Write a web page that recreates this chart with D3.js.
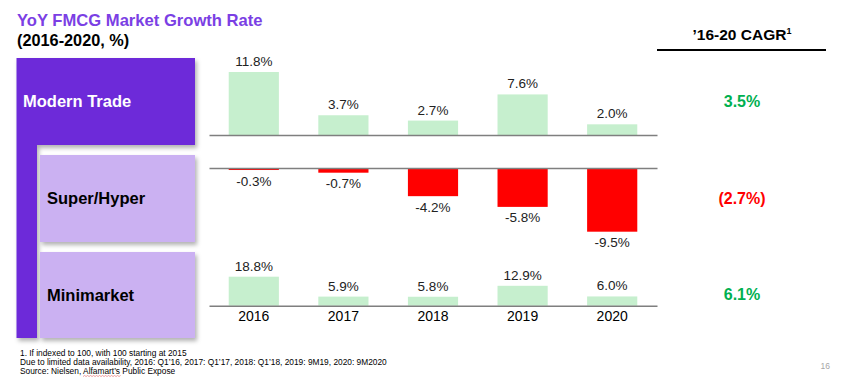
<!DOCTYPE html>
<html><head><meta charset="utf-8">
<script src="https://cdn.jsdelivr.net/npm/d3@7"></script>
<style>
html,body{margin:0;padding:0;background:#fff;}
svg{display:block;font-family:"Liberation Sans",Arial,sans-serif;}
</style></head>
<body><svg id="c" width="845" height="388"></svg>
<script>
const years = ["2016","2017","2018","2019","2020"];
const channels = ["Modern Trade","Super/Hyper","Minimarket"];
const modernTrade = [11.8,3.7,2.7,7.6,2.0];
const superHyper = [-0.3,-0.7,-4.2,-5.8,-9.5];
const minimarket = [18.8,5.9,5.8,12.9,6.0];
const cagr = [3.5,-2.7,6.1];
const titleText = "YoY FMCG Market Growth Rate";
const subtitleText = "(2016-2020, %)";
const cagrHeader = "\u201916-20 CAGR";
const footnotes = [
  "1. If indexed to 100, with 100 starting at 2015",
  "Due to limited data availability, 2016: Q1\u201916, 2017: Q1\u201917, 2018: Q1\u201918, 2019: 9M19, 2020: 9M2020",
  "Source: Nielsen, Alfamart\u2019s Public Expose"
];

const svg = d3.select("#c");
const defs = svg.append("defs");
const f = defs.append("filter").attr("id","sh").attr("x","-10%").attr("y","-10%").attr("width","130%").attr("height","130%");
f.append("feDropShadow").attr("dx",2).attr("dy",3).attr("stdDeviation",2).attr("flood-color","#000").attr("flood-opacity",0.3);

const DARK = "#6d2cd9", LIGHT = "#cbb1f2", GREEN = "#c6efce", RED = "#ff0000", CAGRG = "#00b050";
const fmt = d => (d < 0 ? "-" : "") + Math.abs(d).toFixed(1);

// Title
svg.append("text").attr("x",17).attr("y",26).attr("fill","#7b3fe4").attr("font-weight","bold").attr("font-size",16.6).text(titleText);
svg.append("text").attr("x",17).attr("y",46).attr("fill","#000").attr("font-weight","bold").attr("font-size",16.3).text(subtitleText);

// Left panels
const g = svg.append("g");
g.append("path").attr("filter","url(#sh)").attr("fill",DARK)
  .attr("d","M16.5,58 H195 V145 H37 V338 H16.5 Z");
g.append("rect").attr("filter","url(#sh)").attr("x",40).attr("y",155).attr("width",155).attr("height",87).attr("fill",LIGHT);
g.append("rect").attr("filter","url(#sh)").attr("x",40).attr("y",252).attr("width",155).attr("height",86).attr("fill",LIGHT);
g.append("text").attr("x",23).attr("y",107).attr("fill","#fff").attr("font-weight","bold").attr("font-size",16.5).text(channels[0]);
g.append("text").attr("x",47).attr("y",204).attr("fill","#000").attr("font-weight","bold").attr("font-size",16.5).text(channels[1]);
g.append("text").attr("x",47).attr("y",301).attr("fill","#000").attr("font-weight","bold").attr("font-size",16.5).text(channels[2]);

// Charts
const x = d3.scaleBand().domain(years).range([209,657]).paddingInner(0.44).paddingOuter(0.22);
const panels = [
  {data: modernTrade, y: d3.scaleLinear().domain([0,11.8]).range([135,72]), showYears:false},
  {data: superHyper, y: d3.scaleLinear().domain([-9.5,0]).range([231.7,168]), showYears:false},
  {data: minimarket, y: d3.scaleLinear().domain([0,18.8]).range([305.7,276.7]), showYears:true}
];
panels.forEach((p,i) => {
  const pg = svg.append("g");
  const y0 = p.y(0);
  pg.selectAll("rect").data(p.data).join("rect")
    .attr("x",(d,j)=>x(years[j]))
    .attr("width",x.bandwidth())
    .attr("y",d=>Math.min(p.y(d),y0))
    .attr("height",d=>Math.abs(p.y(d)-y0))
    .attr("fill",d=>d<0?RED:GREEN);
  pg.selectAll("text.v").data(p.data).join("text").attr("class","v")
    .attr("x",(d,j)=>x(years[j])+x.bandwidth()/2)
    .attr("y",d=>d<0?p.y(d)+15.5:p.y(d)-6)
    .attr("text-anchor","middle").attr("font-size",13.5).attr("fill","#222")
    .text(d=>fmt(d)+"%");
  const ax = pg.append("g").attr("transform",`translate(0,${y0})`)
    .call(d3.axisBottom(x).tickSize(0).tickSizeOuter(0).tickPadding(5));
  ax.select(".domain").attr("stroke","#7f7f7f").attr("stroke-width",1.5);
  ax.selectAll(".tick text").attr("font-size",14).attr("fill","#000")
    .attr("font-family","'Liberation Sans',Arial,sans-serif")
    .style("display",p.showYears?null:"none");
});

// CAGR column
const cx = 742;
const hdr = svg.append("text").attr("x",cx).attr("y",40).attr("text-anchor","middle").attr("font-weight","bold").attr("font-size",15.5).attr("fill","#000");
hdr.append("tspan").text(cagrHeader);
hdr.append("tspan").attr("font-size",9).attr("dy",-6).text("1");
svg.append("line").attr("x1",657).attr("x2",826).attr("y1",50).attr("y2",50).attr("stroke","#000").attr("stroke-width",1.8);
const cagrY = [107,204,300];
svg.selectAll("text.cagr").data(cagr).join("text").attr("class","cagr")
  .attr("x",cx).attr("y",(d,i)=>cagrY[i]).attr("text-anchor","middle")
  .attr("font-weight","bold").attr("font-size",16)
  .attr("fill",d=>d<0?RED:CAGRG)
  .text(d=>d<0?"("+fmt(-d)+"%)":fmt(d)+"%");

// Footnotes
const fn = svg.selectAll("text.fn").data(footnotes).join("text").attr("class","fn")
  .attr("x",20).attr("y",(d,i)=>356+i*9).attr("font-size",8.35).attr("fill","#000").text(d=>d);
// spell-check squiggle under "Alfamart's"
const last = fn.filter((d,i)=>i===2).node();
const txt = footnotes[2];
const s = txt.indexOf("Alfamart");
const x1 = last.getStartPositionOfChar(s).x;
const x2 = last.getEndPositionOfChar(s + "Alfamart\u2019s".length - 1).x;
let dpath = `M${x1},376.5`;
for (let xx = x1, k = 0; xx < x2; xx += 1.5, k++) dpath += ` L${xx+1.5},${k%2?376.5:375.5}`;
svg.append("path").attr("d",dpath).attr("fill","none").attr("stroke","#e06060").attr("stroke-width",0.6);
svg.append("text").attr("x",830).attr("y",369).attr("text-anchor","end").attr("font-size",8.5).attr("fill","#a6a6a6").text("16");
</script></body></html>
